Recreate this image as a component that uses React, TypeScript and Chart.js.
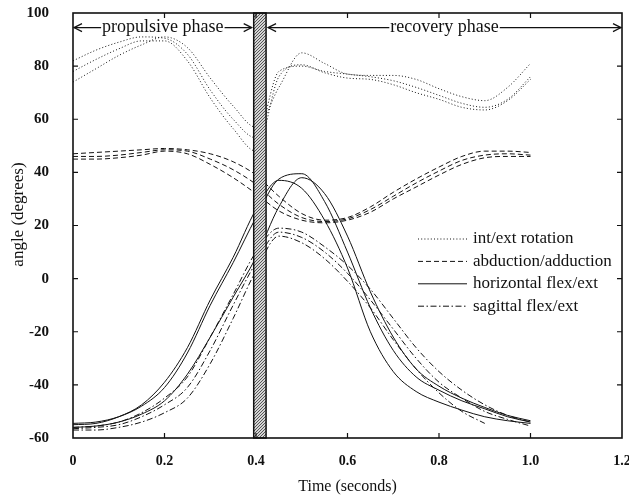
import React, { useEffect, useRef } from "react";
import { Chart, registerables } from "chart.js";

Chart.register(...registerables);

// ---- data ----
const TIME = [0, 0.05, 0.1, 0.15, 0.2, 0.25, 0.3, 0.35, 0.4, 0.45, 0.5, 0.55, 0.6, 0.65, 0.7, 0.75, 0.8, 0.85, 0.9, 0.95, 1.0];

// int/ext rotation (dotted)
const ROT_1 = [78, 82.5, 86.5, 89.5, 89.5, 82, 68, 56.5, 48, 76, 80.5, 77.5, 75.5, 75, 73, 70, 67.5, 64.5, 63.5, 67, 75];
const ROT_2 = [82, 86, 89, 91, 90.5, 84.5, 71, 60, 53, 78, 80, 78, 77, 76, 74.5, 72, 69, 66, 64.5, 67.5, 76];
const ROT_3 = [74, 79, 84, 88, 91, 87, 75.5, 65, 57, 72, 85, 81, 77, 76.5, 76.5, 75, 71.5, 68.5, 67, 72, 81];

// abduction/adduction (dashed)
const ABD_1 = [47, 47.5, 48, 48.5, 49, 48.5, 47, 44, 39, 31, 24.5, 22, 23, 27, 32.5, 37.5, 42, 46, 48, 48, 47.5];
const ABD_2 = [46, 46, 46.5, 47.5, 48.5, 48, 45, 41, 35.5, 28, 23, 21.5, 22.5, 26, 31, 36, 40.5, 44.5, 46.5, 47, 46.5];
const ABD_3 = [45, 45, 45.5, 46.5, 48, 47, 43, 38, 32, 25.5, 22, 21, 22, 25, 30, 34.5, 39, 43, 45.5, 46, 46];

// horizontal flex/ext (solid)
const HOR_1 = [-55, -54.5, -52, -47.5, -39, -26, -8, 8, 26, 37, 34, 22, 4, -20, -35, -42.5, -46.5, -49.5, -52, -53.5, -54.5];
const HOR_2 = [-54.5, -54, -52, -48, -41, -28, -10, 6, 23, 37.5, 39.5, 29, 10, -11, -27, -37, -42, -46, -49, -52, -54];
const HOR_3 = [-56, -55.5, -54, -51, -46, -36, -22, -7, 8, 27, 38, 32, 16, -5, -22, -34, -40.5, -45, -48.5, -51.5, -53.5];

// sagittal flex/ext (dash-dot)
const SAG_1 = [-56, -55.5, -54, -50.5, -45, -37, -22, -6, 10, 19, 17.5, 12, 5, -4, -15, -26, -35, -42, -47.5, -51.5, -54];
const SAG_2 = [-56.5, -56, -55, -52, -47.5, -41, -27, -10, 6, 17.5, 15.5, 10, 2, -8, -19, -30, -39, -45, -50, -53, -55.5];
const SAG_3 = [-57, -57, -56, -54, -50.5, -45, -32, -15, 3, 16, 13.5, 7.5, -1, -11, -23, -34, -43, -50, -54.5, null, null];

const X_TICKS = [0, 0.2, 0.4, 0.6, 0.8, 1.0, 1.2];
const Y_TICKS = [-60, -40, -20, 0, 20, 40, 60, 80, 100];
const X_MIN = 0, X_MAX = 1.2, Y_MIN = -60, Y_MAX = 100;

const BAND = [0.395, 0.422];
const PHASE_Y = 94.5;
const PHASE_LABELS = ["propulsive phase", "recovery phase"];
const LEGEND_LABELS = ["int/ext rotation", "abduction/adduction", "horizontal flex/ext", "sagittal flex/ext"];
const X_TITLE = "Time (seconds)";
const Y_TITLE = "angle (degrees)";

const DOT = [1, 2.2];
const DASH = [5, 3];
const SOLID: number[] = [];
const DASHDOT = [6, 2.5, 1.5, 2.5];
const STYLES = [DOT, DASH, SOLID, DASHDOT];

const GROUPS = [
  [ROT_1, ROT_2, ROT_3],
  [ABD_1, ABD_2, ABD_3],
  [HOR_1, HOR_2, HOR_3],
  [SAG_1, SAG_2, SAG_3],
];

const SERIF = "'Liberation Serif', 'Times New Roman', serif";
const TICKFONT = "'Liberation Serif', 'Times New Roman', serif";
const INK = "#111";

function makePattern(ctx: CanvasRenderingContext2D) {
  const c = document.createElement("canvas");
  c.width = 3;
  c.height = 3;
  const g = c.getContext("2d")!;
  g.fillStyle = "#d4d4d4";
  g.fillRect(0, 0, 3, 3);
  g.fillStyle = "#555";
  g.fillRect(0, 0, 1, 1);
  g.fillRect(2, 1, 1, 1);
  g.fillRect(1, 2, 1, 1);
  return ctx.createPattern(c, "repeat");
}

function arrowHead(ctx: CanvasRenderingContext2D, x: number, y: number, dir: number) {
  ctx.beginPath();
  ctx.moveTo(x + dir * 8, y - 4);
  ctx.lineTo(x, y);
  ctx.lineTo(x + dir * 8, y + 4);
  ctx.stroke();
}

const decor = {
  id: "decor",
  afterDatasetsDraw(chart: any) {
    const { ctx, chartArea } = chart;
    const { left, right, top, bottom } = chartArea;
    const xs = chart.scales.x;
    const ys = chart.scales.y;
    ctx.save();

    // shaded band
    const b0 = xs.getPixelForValue(BAND[0]);
    const b1 = xs.getPixelForValue(BAND[1]);
    ctx.fillStyle = makePattern(ctx) || "#aaa";
    ctx.fillRect(b0, top, b1 - b0, bottom - top);
    ctx.strokeStyle = INK;
    ctx.lineWidth = 1.5;
    ctx.strokeRect(b0, top, b1 - b0, bottom - top);

    // frame
    ctx.lineWidth = 1.6;
    ctx.strokeRect(left, top, right - left, bottom - top);

    // inward ticks on all sides
    ctx.lineWidth = 1.2;
    ctx.beginPath();
    X_TICKS.forEach((v) => {
      if (v === X_MIN || v === X_MAX) return;
      const p = xs.getPixelForValue(v);
      ctx.moveTo(p, bottom);
      ctx.lineTo(p, bottom - 5);
      ctx.moveTo(p, top);
      ctx.lineTo(p, top + 5);
    });
    Y_TICKS.forEach((v) => {
      if (v === Y_MIN || v === Y_MAX) return;
      const p = ys.getPixelForValue(v);
      ctx.moveTo(left, p);
      ctx.lineTo(left + 5, p);
      ctx.moveTo(right, p);
      ctx.lineTo(right - 5, p);
    });
    ctx.stroke();

    // phase annotations
    const py = ys.getPixelForValue(PHASE_Y);
    ctx.font = `18px ${SERIF}`;
    ctx.fillStyle = INK;
    ctx.textAlign = "center";
    ctx.textBaseline = "middle";
    ctx.lineWidth = 1.2;
    const spans = [
      [left + 1, b0 - 2],
      [b1 + 2, right - 1],
    ];
    spans.forEach(([a, b], i) => {
      const mid = (a + b) / 2;
      const w = ctx.measureText(PHASE_LABELS[i]).width;
      ctx.fillText(PHASE_LABELS[i], mid, py);
      ctx.beginPath();
      ctx.moveTo(a, py);
      ctx.lineTo(mid - w / 2 - 1, py);
      ctx.moveTo(mid + w / 2 + 1, py);
      ctx.lineTo(b, py);
      ctx.stroke();
      arrowHead(ctx, a, py, 1);
      arrowHead(ctx, b, py, -1);
    });

    // legend
    ctx.font = `17px ${SERIF}`;
    ctx.textAlign = "left";
    const lx0 = left + 345;
    const lx1 = left + 394;
    const tx = left + 400;
    LEGEND_LABELS.forEach((lab, i) => {
      const yy = top + 226 + i * 22.4;
      ctx.setLineDash(STYLES[i]);
      ctx.lineWidth = 1;
      ctx.beginPath();
      ctx.moveTo(lx0, yy);
      ctx.lineTo(lx1, yy);
      ctx.stroke();
      ctx.setLineDash([]);
      ctx.fillText(lab, tx, yy);
    });

    // axis titles
    ctx.font = `16px ${SERIF}`;
    ctx.textAlign = "center";
    ctx.fillText(X_TITLE, (left + right) / 2, 487);
    ctx.save();
    ctx.translate(19, (top + bottom) / 2 - 11);
    ctx.rotate(-Math.PI / 2);
    ctx.font = `17px ${SERIF}`;
    ctx.fillText(Y_TITLE, 0, 0);
    ctx.restore();

    ctx.restore();
  },
};

export default function App() {
  const ref = useRef<HTMLCanvasElement | null>(null);

  useEffect(() => {
    const canvas = ref.current;
    if (!canvas) return;
    const datasets: any[] = [];
    GROUPS.forEach((group, gi) => {
      group.forEach((arr, si) => {
        datasets.push({
          label: `${LEGEND_LABELS[gi]} ${si + 1}`,
          data: TIME.map((t, i) => ({ x: t, y: arr[i] })).filter((p) => p.y !== null),
          borderColor: INK,
          borderWidth: 1,
          borderDash: STYLES[gi],
          pointRadius: 0,
          fill: false,
          cubicInterpolationMode: "monotone",
        });
      });
    });

    const chart = new Chart(canvas, {
      type: "line",
      data: { datasets },
      options: {
        animation: false,
        responsive: false,
        layout: { padding: { left: 0, top: 13, right: 7, bottom: 0 } },
        plugins: { legend: { display: false }, tooltip: { enabled: false } },
        scales: {
          x: {
            type: "linear",
            min: X_MIN,
            max: X_MAX,
            afterBuildTicks: (s: any) => {
              s.ticks = X_TICKS.map((v) => ({ value: v }));
            },
            afterFit: (s: any) => {
              s.height = 59;
              s.paddingLeft = 0;
              s.paddingRight = 0;
            },
            grid: { display: false, drawTicks: false },
            border: { display: false },
            ticks: {
              padding: 15,
              autoSkip: false,
              maxRotation: 0,
              color: INK,
              font: { family: TICKFONT, size: 14, weight: "bold" },
              callback: (v: any) => (v === 0 ? "0" : Number(v).toFixed(1)),
            },
          },
          y: {
            type: "linear",
            min: Y_MIN,
            max: Y_MAX,
            afterBuildTicks: (s: any) => {
              s.ticks = Y_TICKS.map((v) => ({ value: v }));
            },
            afterFit: (s: any) => {
              s.width = 73;
              s.paddingTop = 0;
              s.paddingBottom = 0;
            },
            grid: { display: false, drawTicks: false },
            border: { display: false },
            ticks: {
              padding: 24,
              color: INK,
              font: { family: TICKFONT, size: 15, weight: "bold" },
              callback: (v: any) => String(v),
            },
          },
        },
      },
      plugins: [decor],
    } as any);

    return () => chart.destroy();
  }, []);

  return (
    <div style={{ position: "fixed", left: 0, top: 0, width: 629, height: 497, background: "#fff" }}>
      <canvas ref={ref} width={629} height={497} style={{ width: 629, height: 497, display: "block" }} />
    </div>
  );
}
